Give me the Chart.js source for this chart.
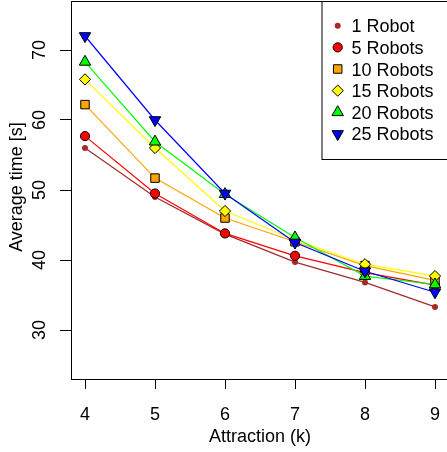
<!DOCTYPE html>
<html>
<head>
<meta charset="utf-8">
<script src="https://cdn.jsdelivr.net/npm/chart.js@4.4.1/dist/chart.umd.min.js"></script>
<style>
  html, body { margin:0; padding:0; background:#fff; overflow:hidden; }
  #wrap { width:450px; height:452px; }
</style>
</head>
<body>
<div id="wrap"><canvas id="c" width="450" height="452"></canvas></div>
<script>
// valores (tiempo medio en s frente a la atracción k)
const attraction = [4, 5, 6, 7, 8, 9];
const xTicks = [4, 5, 6, 7, 8, 9];
const yTicks = [30, 40, 50, 60, 70];

const robots1  = [56.0, 49.0, 43.7, 39.7, 36.8, 33.3];
const robots5  = [57.7, 49.5, 43.8, 40.6, 38.2, 36.4];
const robots10 = [62.2, 51.7, 46.0, 42.6, 39.2, 37.1];
const robots15 = [65.8, 56.0, 47.0, 42.9, 39.4, 37.7];
const robots20 = [68.3, 56.9, 49.4, 43.2, 37.7, 36.5];
const robots25 = [72.0, 60.0, 49.5, 42.5, 38.4, 35.4];

const seriesLabels = ['1 Robot','5 Robots','10 Robots','15 Robots','20 Robots','25 Robots'];
const seriesValues = [robots1, robots5, robots10, robots15, robots20, robots25];

const FONT = '"Liberation Sans", Arial, Helvetica, sans-serif';
const styles = [
  {line:'#A52A2A', fill:'#A52A2A', border:'#A52A2A', shape:'circle',   r:3,   rot:0,   bw:0},
  {line:'#FF0000', fill:'#FF0000', border:'#000',    shape:'circle',   r:4.6, rot:0,   bw:1},
  {line:'#FFA500', fill:'#FFA500', border:'#000',    shape:'rect',     r:6,   rot:0,   bw:1},
  {line:'#FFFF00', fill:'#FFFF00', border:'#000',    shape:'rectRot',  r:5.6, rot:0,   bw:1},
  {line:'#00FF00', fill:'#00FF00', border:'#000',    shape:'triangle', r:6.6, rot:0,   bw:1},
  {line:'#0000FF', fill:'#0000FF', border:'#000',    shape:'triangle', r:6.6, rot:180, bw:1}
];

const datasets = seriesValues.map((vals, i) => ({
  label: seriesLabels[i],
  data: attraction.map((x, j) => ({x, y: vals[j]})),
  borderColor: styles[i].line,
  borderWidth: 1.2,
  tension: 0,
  fill: false,
  pointStyle: styles[i].shape,
  pointRadius: styles[i].r,
  pointRotation: styles[i].rot,
  pointBackgroundColor: styles[i].fill,
  pointBorderColor: styles[i].border,
  pointBorderWidth: styles[i].bw,
  order: seriesValues.length - i   // la última serie queda encima
}));

// marco, etiquetas de ejes y leyenda al estilo R
const rStyle = {
  id: 'rStyle',
  afterDraw(chart){
    const {ctx, chartArea:a, scales:{x, y}} = chart;
    ctx.save();
    ctx.strokeStyle = '#000';
    ctx.lineWidth = 1;
    ctx.strokeRect(Math.round(a.left)+0.5, Math.round(a.top)+0.5,
                   Math.round(a.right-a.left), Math.round(a.bottom-a.top));

    ctx.fillStyle = '#000';
    ctx.font = '18px ' + FONT;
    ctx.textAlign = 'center';
    ctx.textBaseline = 'alphabetic';
    x.ticks.forEach(t => ctx.fillText(String(t.value), x.getPixelForValue(t.value), a.bottom + 40.5));
    ctx.fillText('Attraction (k)', (a.left + a.right)/2, a.bottom + 62.5);

    y.ticks.forEach(t => {
      ctx.save();
      ctx.translate(45, y.getPixelForValue(t.value));
      ctx.rotate(-Math.PI/2);
      ctx.fillText(String(t.value), 0, 0);
      ctx.restore();
    });
    ctx.save();
    ctx.translate(21.5, (a.top + a.bottom)/2 - 3);
    ctx.rotate(-Math.PI/2);
    ctx.fillText('Average time [s]', 0, 0);
    ctx.restore();

    // leyenda
    const lx = 321.5, ly = a.top, rowH = 21.65;
    ctx.strokeRect(lx + 0.5, Math.round(ly) + 0.5, a.right - lx, 158);
    ctx.textAlign = 'left';
    chart.data.datasets.forEach((d, i) => {
      const cy = 25.7 + i*rowH;
      ctx.fillStyle = d.pointBackgroundColor;
      ctx.strokeStyle = d.pointBorderColor;
      ctx.lineWidth = d.pointBorderWidth || 1;
      Chart.helpers.drawPoint(ctx, {
        pointStyle: d.pointStyle, radius: d.pointRadius,
        rotation: d.pointRotation, borderWidth: d.pointBorderWidth
      }, 337.7, cy);
      ctx.fillStyle = '#000';
      ctx.fillText(d.label, 351.5, cy + 6.5);
    });
    ctx.restore();
  }
};

new Chart(document.getElementById('c'), {
  type: 'line',
  data: { datasets },
  options: {
    responsive: false,
    animation: false,
    layout: { autoPadding: false, padding: { top: 1, right: 1, left: 0, bottom: 0 } },
    plugins: { legend: { display: false }, tooltip: { enabled: false } },
    scales: {
      x: {
        type: 'linear', min: 3.8, max: 9.2,
        afterBuildTicks: s => { s.ticks = xTicks.map(v => ({value: v})); },
        afterFit: s => { s.height = 73; },
        grid: { drawOnChartArea: false, drawTicks: true, tickLength: 10, color: '#000', lineWidth: 1 },
        border: { display: false },
        ticks: { display: false }
      },
      y: {
        type: 'linear', min: 23, max: 77,
        afterBuildTicks: s => { s.ticks = yTicks.map(v => ({value: v})); },
        afterFit: s => { s.width = 71; },
        grid: { drawOnChartArea: false, drawTicks: true, tickLength: 11, color: '#000', lineWidth: 1 },
        border: { display: false },
        ticks: { display: false }
      }
    }
  },
  plugins: [rStyle]
});
</script>
</body>
</html>
